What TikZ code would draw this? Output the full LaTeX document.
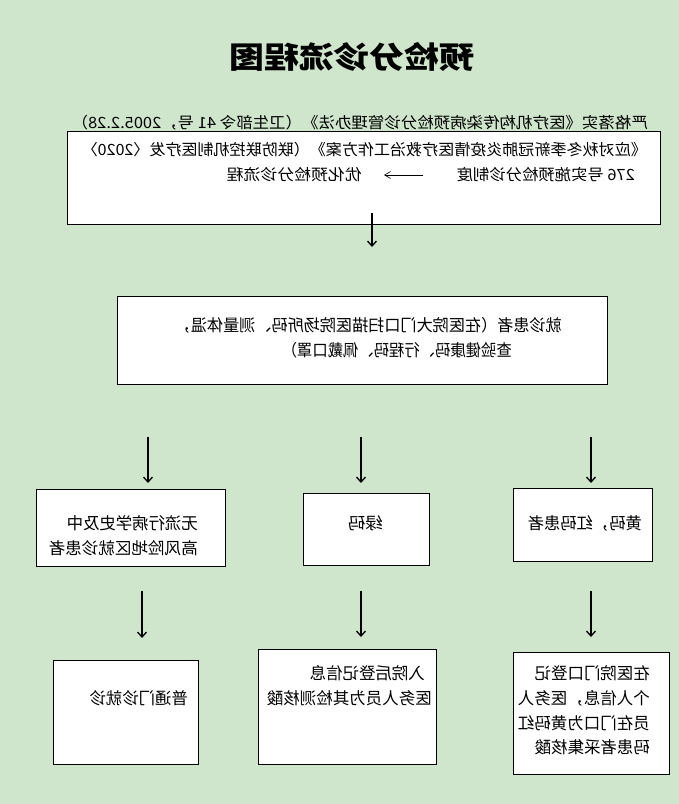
\documentclass[tikz,border=0pt]{standalone}
\usepackage{fontspec}
\setmainfont{Noto Sans CJK SC}
\usetikzlibrary{arrows.meta}
\newcommand\mirw[2]{\reflectbox{\resizebox*{#1pt}{\totalheight}{#2}}}
\begin{document}
\begin{tikzpicture}[x=1pt,y=-1pt,
 box/.style={draw=black,line width=1.3pt,fill=white,inner sep=0pt,anchor=north west},
 thin/.style={box,line width=0.8pt},
 txt/.style={inner sep=0pt,font=\fontsize{16.5}{16.5}\selectfont,anchor=east},
 top/.style={txt,font=\fontsize{15.5}{15.5}\selectfont},
 arr/.style={line width=1.3pt,-{Straight Barb[length=5pt,width=9pt]}}]
\fill[fill={rgb,255:red,207;green,230;blue,204}] (0,0) rectangle (679,804);
\node[inner sep=0pt,font=\fontsize{30}{30}\selectfont\bfseries] (title) at (352,57) {\mirw{245}{预检分诊流程图}};
% top text line behind box
\node[top] (t0) at (648,123) {\mirw{576}{严格落实《医疗机构传染病预检分诊管理办法》（卫生部令 41 号，2005.2.28）}};
% boxes
\node[box,minimum width=593,minimum height=93] (b1) at (67,131) {};
\node[box,minimum width=490,minimum height=88] (b2) at (117,296) {};
\node[box,minimum width=189,minimum height=77] (l3) at (36,489) {};
\node[box,minimum width=126,minimum height=72] (m3) at (303,493) {};
\node[box,minimum width=139,minimum height=73] (r3) at (513,488) {};
\node[thin,minimum width=145,minimum height=104] (l4) at (53,660) {};
\node[thin,minimum width=178,minimum height=115] (m4) at (258,649) {};
\node[thin,minimum width=156,minimum height=122] (r4) at (513,652) {};
% texts
\node[top] (t1) at (647,150) {\mirw{565}{《应对秋冬季新冠肺炎疫情医疗救治工作方案》（联防联控机制医疗发〈2020〉}};
\node[top] (t2) at (635,175) {\mirw{178}{276 号实施预检分诊制度}};
\node[top] (t3) at (362,175) {\mirw{135}{优化预检分诊流程}};
\coordinate (aS) at (423,175);
\coordinate (aE) at (384,175);
\draw[-{Straight Barb[length=6pt,width=7pt]},line width=0.6pt] (aS) -- (aE);
\node[txt] (t4a) at (562,325) {\mirw{387}{就诊患者（在医院大门口扫描医院场所码、测量体温，}};
\node[txt] (t4b) at (512,350) {\mirw{230}{查验健康码、行程码、佩戴口罩）}};
\node[txt] (t5a) at (198,523) {\mirw{131}{无流行病学史及中}};
\node[txt] (t5b) at (198,548) {\mirw{149}{高风险地区就诊患者}};
\node[txt] (t6) at (383,523) {\mirw{35}{绿码}};
\node[txt] (t7) at (642,523) {\mirw{114}{黄码，红码患者}};
\node[txt] (t8) at (188,698) {\mirw{98}{普通门诊就诊}};
\node[txt] (t9a) at (425,673) {\mirw{115}{入院后登记信息}};
\node[txt] (t9b) at (432,698) {\mirw{165}{医务人员为其检测核酸}};
\node[txt] (t10a) at (650,673) {\mirw{115}{在医院门口登记}};
\node[txt] (t10b) at (650,698) {\mirw{132}{个人信息，医务人}};
\node[txt] (t10c) at (650,723) {\mirw{132}{员在门口为黄码红}};
\node[txt] (t10d) at (650,747) {\mirw{115}{码患者采集核酸}};
% arrows
\coordinate (p1) at (372,213); \coordinate (q1) at (372,247);
\coordinate (p2) at (148,437); \coordinate (q2) at (148,483);
\coordinate (p3) at (361,437); \coordinate (q3) at (361,483);
\coordinate (p4) at (591,437); \coordinate (q4) at (591,483);
\coordinate (p5) at (142,591); \coordinate (q5) at (142,638);
\coordinate (p6) at (361,591); \coordinate (q6) at (361,637);
\coordinate (p7) at (591,591); \coordinate (q7) at (591,637);
\foreach \i in {1,...,7} \draw[arr] (p\i) -- (q\i);
\end{tikzpicture}
\end{document}
